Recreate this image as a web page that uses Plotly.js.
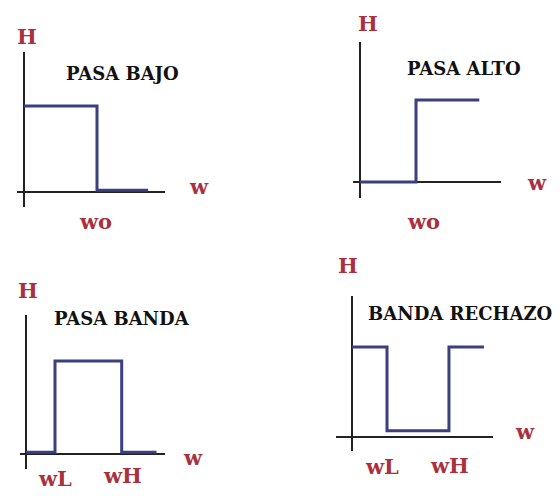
<!DOCTYPE html>
<html>
<head>
<meta charset="utf-8">
<script src="https://cdn.plot.ly/plotly-3.0.1.min.js"></script>
<style>
  html, body { margin: 0; padding: 0; background: #fff; }
  #chart { width: 560px; height: 496px; }
</style>
</head>
<body>
<div id="chart"></div>
<script>
// filter responses: H vs w (pass level = 1)
const bajoW = [0, 1, 1, 1.7];
const bajoH = [1, 1, 0.02, 0.02];
const altoW = [0, 1, 1, 2.13];
const altoH = [0, 0, 1, 1];
const bandaW = [0, 1, 1, 3.3, 3.3, 4.5];
const bandaH = [0.02, 0.02, 1, 1, 0.02, 0.02];
const rechazoW = [0, 1, 1, 2.77, 2.77, 3.77];
const rechazoH = [1, 1, 0.07, 0.07, 1, 1];

const titles = ['PASA BAJO', 'PASA ALTO', 'PASA BANDA', 'BANDA RECHAZO'];
const cutoffs = [[1], [1], [1, 3.3], [1, 2.77]];
const cutoffNames = [['wo'], ['wo'], ['wL', 'wH'], ['wL', 'wH']];

const W = 560, Hpx = 496;
const blue = '#3b3f7d';
const red = '#a8313d';

// panel boxes in pixels: axis extents, origin and scale
const panels = [
  {left: 17, right: 165, top: 52, bottom: 207, ox: 24, oy: 192, sx: 73, sy: 86,
   hLab: [27, 37], tLab: [122, 73], wLab: [199, 187], cutY: [221], cutShift: [-2]},
  {left: 353, right: 501, top: 42, bottom: 198, ox: 360, oy: 182, sx: 56, sy: 82,
   hLab: [368, 24], tLab: [464, 68], wLab: [537, 182], cutY: [221], cutShift: [7]},
  {left: 20, right: 165, top: 315, bottom: 469, ox: 26, oy: 454, sx: 29, sy: 93,
   hLab: [28, 290], tLab: [122, 318], wLab: [193, 457], cutY: [478, 475], cutShift: [0, 1]},
  {left: 336, right: 493, top: 296, bottom: 451, ox: 352, oy: 437, sx: 35, sy: 90,
   hLab: [348, 265], tLab: [460, 313], wLab: [525, 431], cutY: [466, 465], cutShift: [-5, 1]}
];

const series = [[bajoW, bajoH], [altoW, altoH], [bandaW, bandaH], [rechazoW, rechazoH]];

const layout = {
  width: W, height: Hpx,
  margin: {l: 0, r: 0, t: 0, b: 0},
  paper_bgcolor: '#fff', plot_bgcolor: 'rgba(0,0,0,0)',
  showlegend: false,
  annotations: []
};
const data = [];

const labFont = {family: 'DejaVu Serif', size: 21, color: red, weight: 'bold'};
const titleFont = {family: 'DejaVu Serif', size: 18, color: '#111', weight: 'bold'};

panels.forEach((p, i) => {
  const n = i === 0 ? '' : String(i + 1);
  const xa = 'xaxis' + n, ya = 'yaxis' + n;
  const common = {
    showgrid: false, showticklabels: false, ticks: '', fixedrange: true,
    zeroline: true, zerolinecolor: '#222', zerolinewidth: 2, showline: false
  };
  layout[xa] = Object.assign({}, common, {
    domain: [p.left / W, p.right / W],
    range: [(p.left - p.ox) / p.sx, (p.right - p.ox) / p.sx],
    anchor: 'y' + n
  });
  layout[ya] = Object.assign({}, common, {
    domain: [1 - p.bottom / Hpx, 1 - p.top / Hpx],
    range: [(p.oy - p.bottom) / p.sy, (p.oy - p.top) / p.sy],
    anchor: 'x' + n
  });

  data.push({
    x: series[i][0], y: series[i][1],
    xaxis: 'x' + n, yaxis: 'y' + n,
    type: 'scatter', mode: 'lines',
    line: {color: blue, width: 3},
    hoverinfo: 'skip'
  });

  const ann = (x, y, text, font, extra) => Object.assign({
    x: x, y: y, xref: 'paper', yref: 'paper', text: text, font: font,
    showarrow: false, xanchor: 'center', yanchor: 'middle'
  }, extra || {});

  layout.annotations.push(ann(p.hLab[0] / W, 1 - p.hLab[1] / Hpx, 'H', labFont));
  layout.annotations.push(ann(p.tLab[0] / W, 1 - p.tLab[1] / Hpx, titles[i], titleFont));
  layout.annotations.push(ann(p.wLab[0] / W, 1 - p.wLab[1] / Hpx, 'w', labFont));
  cutoffs[i].forEach((c, k) => {
    layout.annotations.push(ann(c, 1 - p.cutY[k] / Hpx, cutoffNames[i][k], labFont,
      {xref: 'x' + n, xshift: p.cutShift[k]}));
  });
});

Plotly.newPlot('chart', data, layout, {displayModeBar: false, staticPlot: true});
</script>
</body>
</html>
